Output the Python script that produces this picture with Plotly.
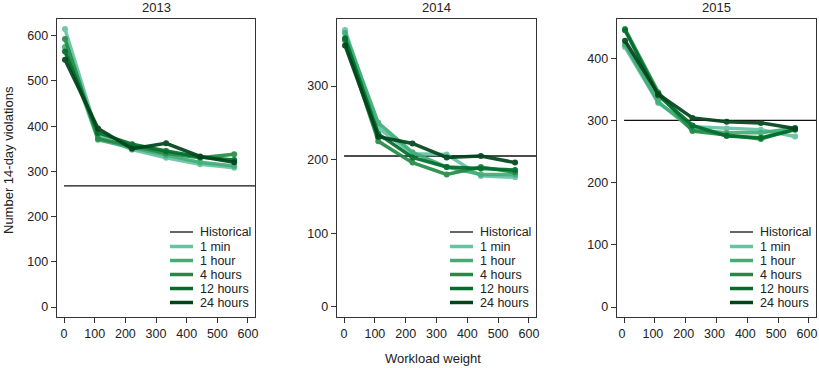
import plotly.graph_objects as go

W, H = 860, 368  # page is viewed through an 819 px wide window; extra width is off-screen

years = ["2013", "2014", "2015"]
weights = [3, 111, 222, 333, 444, 555]
series_names = ["1 min", "1 hour", "4 hours", "12 hours", "24 hours"]
series_colors = ["#66c2a4", "#41ae76", "#238b45", "#006d2c", "#00441b"]

historical = {"2013": 268, "2014": 205, "2015": 300}

values_2013 = {
    "1 min":    [615, 378, 348, 330, 316, 308],
    "1 hour":   [575, 370, 352, 335, 320, 312],
    "4 hours":  [593, 372, 356, 340, 330, 338],
    "12 hours": [565, 385, 360, 345, 332, 325],
    "24 hours": [547, 395, 350, 362, 333, 320],
}
values_2014 = {
    "1 min":    [376, 243, 208, 207, 178, 176],
    "1 hour":   [372, 250, 210, 190, 180, 180],
    "4 hours":  [362, 225, 196, 180, 190, 183],
    "12 hours": [365, 235, 203, 190, 188, 186],
    "24 hours": [355, 231, 222, 203, 205, 196],
}
values_2015 = {
    "1 min":    [418, 328, 290, 287, 285, 274],
    "1 hour":   [422, 330, 285, 280, 280, 288],
    "4 hours":  [447, 345, 283, 277, 270, 286],
    "12 hours": [445, 340, 292, 275, 272, 285],
    "24 hours": [428, 342, 304, 298, 296, 287],
}
all_values = {"2013": values_2013, "2014": values_2014, "2015": values_2015}

x_ticks = [0, 100, 200, 300, 400, 500, 600]
y_ticks = {"2013": [0, 100, 200, 300, 400, 500, 600],
           "2014": [0, 100, 200, 300],
           "2015": [0, 100, 200, 300, 400]}
y_ranges = {"2013": [-22, 637], "2014": [-13.6, 391], "2015": [-16, 463]}
x_range = [-23, 623]

legend_labels = ["Historical"] + series_names
legend_colors = ["#111111"] + series_colors
legend_widths = [1.3] + [3.5] * 5

# layout geometry (pixels)
ML, MR, MT, MB = 57, 44, 19, 51
PW, PH = W - ML - MR, H - MT - MB
panel_px = [(57, 255), (337, 536), (617, 816)]


def px_x(p):
    return (p - ML) / PW


def px_y(p):
    return (H - MB - p) / PH


FONT = "Liberation Sans, Arial, Helvetica, sans-serif"

fig = go.Figure()
for i, yr in enumerate(years):
    ax = "" if i == 0 else str(i + 1)
    fig.add_trace(go.Scatter(
        x=[0, 700], y=[historical[yr]] * 2, mode="lines",
        line=dict(color="#111111", width=1.3), name="Historical",
        xaxis="x" + ax, yaxis="y" + ax, showlegend=False, hoverinfo="skip"))
    for name, col in zip(series_names, series_colors):
        fig.add_trace(go.Scatter(
            x=weights, y=all_values[yr][name], mode="lines+markers",
            line=dict(color=col, width=3.5), marker=dict(color=col, size=6),
            opacity=0.92, name=name, xaxis="x" + ax, yaxis="y" + ax,
            showlegend=False))

layout = dict(
    width=W, height=H, margin=dict(l=ML, r=MR, t=MT, b=MB),
    paper_bgcolor="white", plot_bgcolor="white",
    font=dict(family=FONT, size=12, color="#222"),
    showlegend=False,
)
for i, yr in enumerate(years):
    ax = "" if i == 0 else str(i + 1)
    l, r = panel_px[i]
    layout["xaxis" + ax] = dict(
        domain=[max(0, px_x(l)), min(1, px_x(r))], range=x_range,
        tickvals=x_ticks, showgrid=False, zeroline=False, showline=True,
        mirror=True, linecolor="#333", linewidth=1.3, ticks="outside",
        ticklen=5, tickcolor="#333", tickfont=dict(size=12.5, color="#222"),
        ticklabeloverflow="allow", ticklabelshift=(-2 if i == 2 else 0),
        anchor="y" + ax, fixedrange=True, automargin=False)
    layout["yaxis" + ax] = dict(
        domain=[0, 1], range=y_ranges[yr],
        tickvals=y_ticks[yr], showgrid=False, zeroline=False, showline=True,
        mirror=True, linecolor="#333", linewidth=1.3, ticks="outside",
        ticklen=5, tickcolor="#333", tickfont=dict(size=12.5, color="#222"),
        ticklabeloverflow="allow",
        anchor="x" + ax, fixedrange=True, automargin=False)

fig.update_layout(**layout)

annotations = []
shapes = []
legend_rows = [232, 246.5, 260.5, 274.5, 288.5, 302.5]
for i, yr in enumerate(years):
    l, r = panel_px[i]
    annotations.append(dict(
        text=yr, x=px_x((l + r) / 2), y=px_y(7), xref="paper", yref="paper",
        xanchor="center", yanchor="middle",
        showarrow=False, font=dict(size=13, color="#222")))
    # in-panel legend
    for lab, col, lw, ry in zip(legend_labels, legend_colors, legend_widths, legend_rows):
        shapes.append(dict(
            type="line", xref="paper", yref="paper",
            x0=px_x(l + 113), x1=px_x(l + 136), y0=px_y(ry), y1=px_y(ry),
            line=dict(color=col, width=lw)))
        annotations.append(dict(
            text=lab, x=px_x(l + 141), y=px_y(ry), xref="paper", yref="paper",
            xanchor="left", yanchor="middle", showarrow=False,
            font=dict(size=12.5, color="#222")))
annotations.append(dict(
    text="Number 14-day violations", x=px_x(8), y=px_y(160), xref="paper",
    yref="paper", xanchor="center", yanchor="middle", showarrow=False,
    textangle=-90, font=dict(size=13, color="#222")))
annotations.append(dict(
    text="Workload weight", x=px_x(433), y=px_y(358), xref="paper",
    yref="paper", xanchor="center", yanchor="middle", showarrow=False,
    font=dict(size=13, color="#222")))
fig.update_layout(annotations=annotations, shapes=shapes)

fig.write_html(
    "out.html",
    config={"displayModeBar": False, "staticPlot": True},
    post_script="document.body.style.margin='0';document.body.style.overflow='hidden';",
)
